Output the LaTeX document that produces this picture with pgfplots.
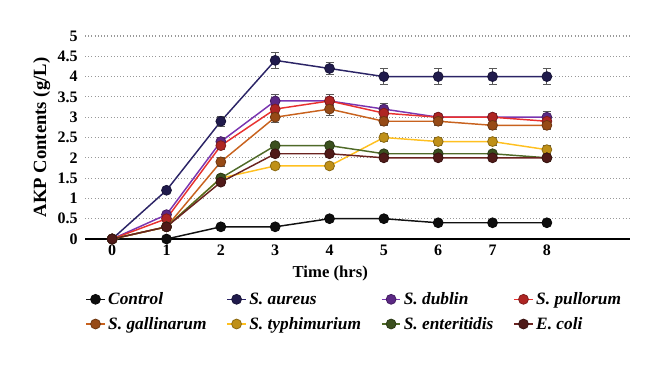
\documentclass[border=0pt]{standalone}
\usepackage{fontspec}
\setmainfont{Liberation Serif}
\usepackage{pgfplots}
\pgfplotsset{compat=1.18}
\usepackage{pgfplotstable}
\definecolor{cCtrl}{HTML}{111111}
\definecolor{cAur}{HTML}{2B2466}
\definecolor{cDub}{HTML}{7A35B0}
\definecolor{cPul}{HTML}{E8312F}
\definecolor{cGal}{HTML}{C8621E}
\definecolor{cTyp}{HTML}{FFC020}
\definecolor{cEnt}{HTML}{4F6A28}
\definecolor{cEco}{HTML}{6A2320}
\pgfplotstableread{
t ctrl ectrl aur eaur dub edub pul epul gal egal typ etyp ent eent eco eeco
0 0   0    0   0    0   0    0   0    0   0    0   0    0   0    0   0
1 0   0    1.2 0.05 0.6 0.05 0.5 0.05 0.3 0.05 0.3 0.05 0.3 0.05 0.3 0.05
2 0.3 0    2.9 0.12 2.4 0.1  2.3 0.1  1.9 0.1  1.5 0.05 1.5 0.05 1.4 0.05
3 0.3 0    4.4 0.2  3.4 0.15 3.2 0.1  3.0 0.12 1.8 0.05 2.3 0.05 2.1 0.05
4 0.5 0    4.2 0.15 3.4 0.15 3.4 0.1  3.2 0.15 1.8 0.05 2.3 0.05 2.1 0.05
5 0.5 0    4.0 0.2  3.2 0.15 3.1 0.1  2.9 0.1  2.5 0.1  2.1 0.05 2.0 0.05
6 0.4 0    4.0 0.2  3.0 0.1  3.0 0.1  2.9 0.1  2.4 0.1  2.1 0.05 2.0 0.05
7 0.4 0    4.0 0.2  3.0 0.1  3.0 0.1  2.8 0.1  2.4 0.1  2.1 0.05 2.0 0.05
8 0.4 0    4.0 0.2  3.0 0.15 2.9 0.1  2.8 0.1  2.2 0.1  2.0 0.05 2.0 0.05
}\data
\pgfplotsset{
  ser/.style={color=#1, solid, line width=1.1pt, mark=*, mark size=3.7pt,
    mark options={solid, fill=#1!75!black, draw=#1!55!black, line width=0.6pt},
    error bars/y dir=both, error bars/y explicit,
    error bars/error bar style={solid, color=gray!70!black, line width=0.6pt},
    error bars/error mark options={solid, rotate=90, mark size=3pt, color=gray!70!black, line width=0.6pt}},
}
\begin{document}
\begin{tikzpicture}[x=1pt,y=1pt]
\useasboundingbox (0,0) rectangle (495,273);
\begin{axis}[
  at={(63.75pt,93.75pt)}, anchor=south west,
  scale only axis, width=408.75pt, height=152.25pt,
  xmin=-0.5, xmax=9.53, ymin=0, ymax=5,
  axis x line*=bottom, axis y line*=left,
  y axis line style={draw=none},
  x axis line style={-, line width=0.8pt},
  xtick={0,...,8}, ytick={0,0.5,...,5},
  ymajorgrids, grid style={dotted, gray!80, line width=0.8pt},
  major tick length=0pt,
  tick label style={font=\bfseries\fontsize{12}{14}\selectfont},
  yticklabel style={xshift=-2pt},
  xticklabel style={yshift=-1pt},
  /pgf/number format/assume math mode=true,
  xlabel={Time (hrs)}, ylabel={AKP Contents (g/L)},
  xlabel style={font=\bfseries\fontsize{12.5}{14}\selectfont, at={(axis description cs:0.45,0)}, anchor=north, yshift=-17pt},
  ylabel style={font=\bfseries\fontsize{14}{16}\selectfont, at={(axis description cs:-0.055,0.5)}, anchor=south},
  clip=false,
  legend columns=4,
  legend style={draw=none, font=\bfseries\itshape\fontsize{13}{15}\selectfont,
    at={(axis description cs:-0.007,-0.235)}, anchor=north west,
    /tikz/every even column/.append style={column sep=13pt},
    row sep=4pt},
  legend cell align=left,
  legend image code/.code={\draw[#1, mark repeat=2, mark phase=2] plot coordinates {(0pt,0pt) (7pt,0pt) (14pt,0pt)};},
]
\addplot[ser=cCtrl] table[x=t,y=ctrl,y error=ectrl] {\data};
\addlegendentry{Control}
\addplot[ser=cAur] table[x=t,y=aur,y error=eaur] {\data};
\addlegendentry{S. aureus}
\addplot[ser=cDub] table[x=t,y=dub,y error=edub] {\data};
\addlegendentry{S. dublin}
\addplot[ser=cPul] table[x=t,y=pul,y error=epul] {\data};
\addlegendentry{S. pullorum}
\addplot[ser=cGal] table[x=t,y=gal,y error=egal] {\data};
\addlegendentry{S. gallinarum}
\addplot[ser=cTyp] table[x=t,y=typ,y error=etyp] {\data};
\addlegendentry{S. typhimurium}
\addplot[ser=cEnt] table[x=t,y=ent,y error=eent] {\data};
\addlegendentry{S. enteritidis}
\addplot[ser=cEco] table[x=t,y=eco,y error=eeco] {\data};
\addlegendentry{E. coli}
\end{axis}
\end{tikzpicture}
\end{document}
